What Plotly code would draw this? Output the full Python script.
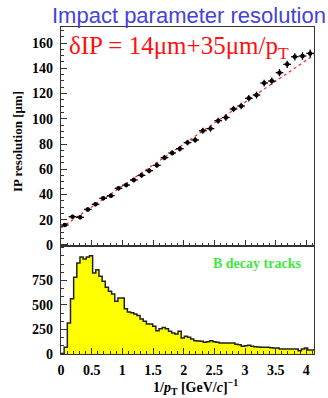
import plotly.graph_objects as go

# ---- data ----
ip_x = [0.0625 + 0.125 * k for k in range(33)]
ip_res = [15.8, 22.4, 21.9, 28.2, 32.2, 37.0, 39.0, 44.9, 47.5, 51.5, 55.2,
          58.9, 63.1, 69.2, 72.9, 76.3, 81.1, 83.2, 90.5, 92.2, 98.5, 101.0,
          107.7, 110.1, 116.2, 118.8, 128.3, 129.9, 136.5, 143.1, 149.1, 149.7, 151.8]
ip_err = [1.5, 1.5, 1.5, 1.6, 1.6, 1.7, 1.7, 1.8, 1.8, 1.9, 1.9, 2.0, 2.0, 2.1,
          2.1, 2.2, 2.2, 2.3, 2.3, 2.4, 2.4, 2.5, 2.5, 2.6, 2.6, 2.7, 2.7, 2.8,
          2.8, 2.9, 2.9, 3.0, 3.0]
ip_xerr = 0.0625
# dotted fit line endpoints as drawn in the picture
fit_line_x = [0.0, 4.125]
fit_line_y = [13.5, 150.5]

hist_lo = 0.0
hist_hi = 4.125
hist_counts = [5, 70, 316, 564, 782, 928, 990, 969, 990, 1003,
               826, 860, 792, 741, 680, 639, 612, 537, 571, 571,
               462, 429, 420, 408, 394, 357, 333, 306, 306, 282,
               238, 258, 271, 258, 231, 214, 205, 231, 163, 180,
               170, 153, 136, 133, 129, 120, 125, 136, 125, 119,
               112, 112, 112, 112, 112, 100, 95, 78, 85, 88,
               78, 75, 71, 68, 68, 68, 63, 61, 61, 51,
               51, 51, 51, 51, 51, 34, 51, 61, 41, 41]

top_yticks = [0, 20, 40, 60, 80, 100, 120, 140, 160]
bottom_yticks = [0, 250, 500, 750]
x_ticks = [0, 0.5, 1, 1.5, 2, 2.5, 3, 3.5, 4]
x_ticklabels = ["0", "0.5", "1", "1.5", "2", "2.5", "3", "3.5", "4"]

x_range = [0, 4.125]

nb = len(hist_counts)
bw = (hist_hi - hist_lo) / nb
hist_edges = [hist_lo + i * bw for i in range(nb + 1)]
hist_y = hist_counts + [hist_counts[-1]]

fig = go.Figure()

# histogram (bottom)
fig.add_trace(go.Scatter(
    x=hist_edges, y=hist_y, mode="lines", line_shape="hv",
    line=dict(color="#222222", width=1.5),
    fill="tozeroy", fillcolor="#ffff00",
    xaxis="x2", yaxis="y2", showlegend=False, hoverinfo="skip"))

# fit line
fig.add_trace(go.Scatter(
    x=fit_line_x, y=fit_line_y, mode="lines",
    line=dict(color="#ff2020", width=1.2, dash="dot"),
    xaxis="x", yaxis="y", showlegend=False))

# IP resolution points
fig.add_trace(go.Scatter(
    x=ip_x, y=ip_res, mode="markers",
    marker=dict(color="black", size=4.5, symbol="circle"),
    error_x=dict(type="constant", value=ip_xerr, color="black", thickness=1.3, width=0),
    error_y=dict(type="data", array=ip_err, color="black", thickness=1.3, width=0),
    xaxis="x", yaxis="y", showlegend=False))

tickfont = dict(family="Liberation Serif", size=14, color="black", weight="bold")
axline = dict(showline=True, linecolor="#333333", linewidth=1.2, mirror=True,
              showgrid=False, zeroline=False)

fig.update_layout(
    width=328, height=398,
    margin=dict(l=61, r=14, t=27, b=44),
    paper_bgcolor="white", plot_bgcolor="white",
    xaxis=dict(domain=[0, 1], range=x_range, anchor="y",
               ticks="inside", ticklen=6, tickcolor="#333333", tickvals=x_ticks,
               showticklabels=False,
               minor=dict(dtick=0.1, tick0=0, ticks="inside", ticklen=3, tickcolor="#333333"),
               **axline),
    yaxis=dict(domain=[0.3303, 1], range=[-0.8, 172.7], anchor="x",
               ticks="inside", ticklen=6, tickcolor="#333333", tickvals=top_yticks,
               tickfont=tickfont, ticklabelstandoff=4,
               minor=dict(dtick=5, tick0=0, ticks="inside", ticklen=3, tickcolor="#333333"),
               **axline),
    xaxis2=dict(domain=[0, 1], range=x_range, anchor="y2",
                ticks="inside", ticklen=6, tickcolor="#333333",
                tickvals=x_ticks, ticktext=x_ticklabels,
                tickfont=tickfont, ticklabelstandoff=3,
                minor=dict(dtick=0.1, tick0=0, ticks="inside", ticklen=3, tickcolor="#333333"),
                **axline),
    yaxis2=dict(domain=[0, 0.3303], range=[0, 1102], anchor="x2",
                ticks="inside", ticklen=6, tickcolor="#333333", tickvals=bottom_yticks,
                tickfont=tickfont, ticklabelstandoff=4,
                minor=dict(dtick=250 / 3, tick0=0, ticks="inside", ticklen=3, tickcolor="#333333"),
                **axline),
)

def px_x(p):
    return (p - 61) / 253.0

def px_y(p):
    return (354 - p) / 327.0

annotations = [
    dict(text="Impact parameter resolution", x=px_x(189), y=px_y(15),
         font=dict(family="Liberation Sans", size=22, color="#4343dc")),
    dict(text="δIP = 14μm+35μm/p<sub>T</sub>", x=px_x(67), y=px_y(47), xanchor="left",
         font=dict(family="Liberation Serif, Times New Roman, serif", size=25, color="#ff1010")),
    dict(text="<b>B decay tracks</b>", x=px_x(257), y=px_y(263),
         font=dict(family="Liberation Serif", size=14, color="#3ee83e")),
    dict(text="<b>IP resolution [μm]</b>", x=px_x(17), y=px_y(142), textangle=-90,
         font=dict(family="Liberation Serif", size=13, color="black")),
    dict(text="<b>1/<i>p</i><sub>T</sub> [GeV/<i>c</i>]<sup>−1</sup></b>", x=px_x(240), y=px_y(387),
         xanchor="right",
         font=dict(family="Liberation Serif", size=14, color="black")),
]
for a in annotations:
    a.setdefault("xanchor", "center")
    a.update(xref="paper", yref="paper", yanchor="middle", showarrow=False)
    fig.add_annotation(**a)

fig.write_html("out.html", config={"displayModeBar": False},
               post_script="document.body.style.margin='0';")
